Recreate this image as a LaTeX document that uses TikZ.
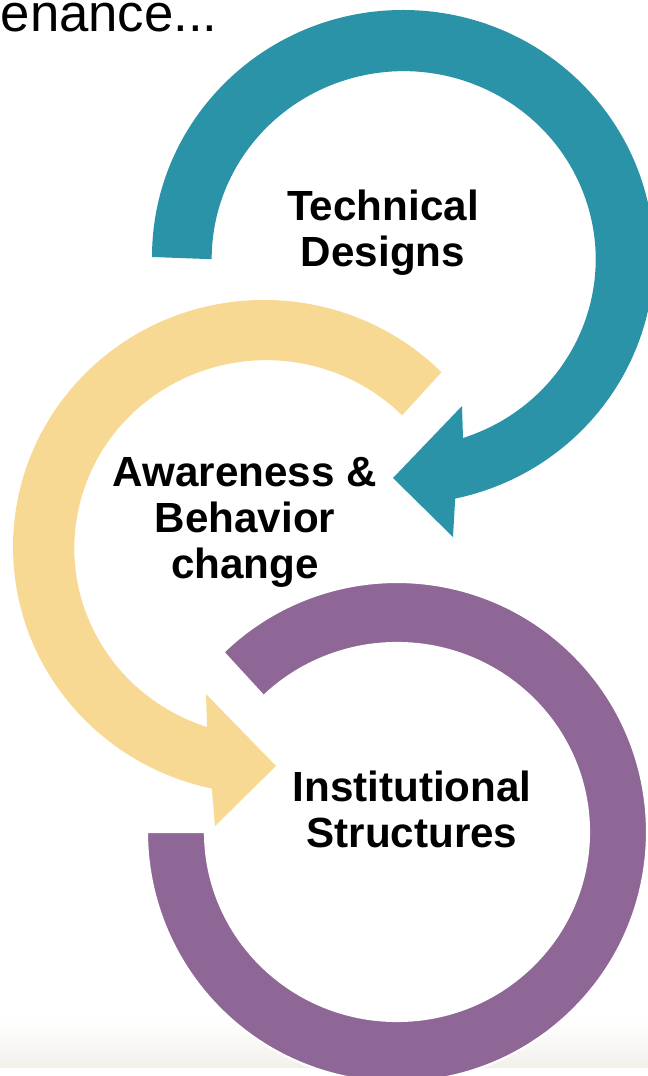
\documentclass[tikz,border=0pt]{standalone}
\usepackage{fontspec}
\setmainfont{Liberation Sans}
\definecolor{tealring}{RGB}{42,147,168}
\definecolor{yellowring}{RGB}{247,217,147}
\definecolor{purplering}{RGB}{142,103,150}
\definecolor{bandgray}{RGB}{243,240,235}
\begin{document}
\begin{tikzpicture}[label/.style={align=center,inner sep=0pt,font=\bfseries\fontsize{12}{13.1}\selectfont}]
\useasboundingbox (0,0) rectangle (6.48,10.76);
\clip (0,0) rectangle (6.48,10.76);
\shade[top color=white,bottom color=bandgray] (0,0.08) rectangle (6.48,0.56);
\begin{scope}[shift={(4.03,8.19)}]
\fill[tealring] (-2.51,0) arc[start angle=180,end angle=-78,x radius=2.51,y radius=2.47] -- (0.50,-2.80) -- (-0.10,-2.21) -- (0.59,-1.49) -- (0.60,-1.81) arc[start angle=-72,end angle=180,x radius=1.92,y radius=1.88] -- cycle;
\end{scope}
\begin{scope}[shift={(2.64,5.29)}]
\fill[yellowring] (1.775,1.747) arc[start angle=45,end angle=258,x radius=2.51,y radius=2.47] -- (-0.49,-2.79) -- (0.12,-2.19) -- (-0.58,-1.47) -- (-0.57,-1.80) arc[start angle=252,end angle=45,x radius=1.92,y radius=1.88] -- cycle;
\end{scope}
\begin{scope}[shift={(3.97,2.44)}]
\filldraw[purplering,draw=white,line width=0.6pt] (134:2.5) arc[start angle=134,end angle=-180,radius=2.5] -- (-1.92,0) arc[start angle=-180,end angle=134,x radius=1.92,y radius=1.89] -- cycle;
\end{scope}
\node[anchor=base west,inner sep=0pt,font=\fontsize{15}{17}\selectfont] (intro) at (0,10.44) {enance...};
\node[label] (tech) at (3.83,8.43) {Technical\\Designs};
\node[label] (aware) at (2.45,5.535) {Awareness \&\\Behavior\\change};
\node[label] (inst) at (4.12,2.67) {Institutional\\Structures};
\end{tikzpicture}
\end{document}
